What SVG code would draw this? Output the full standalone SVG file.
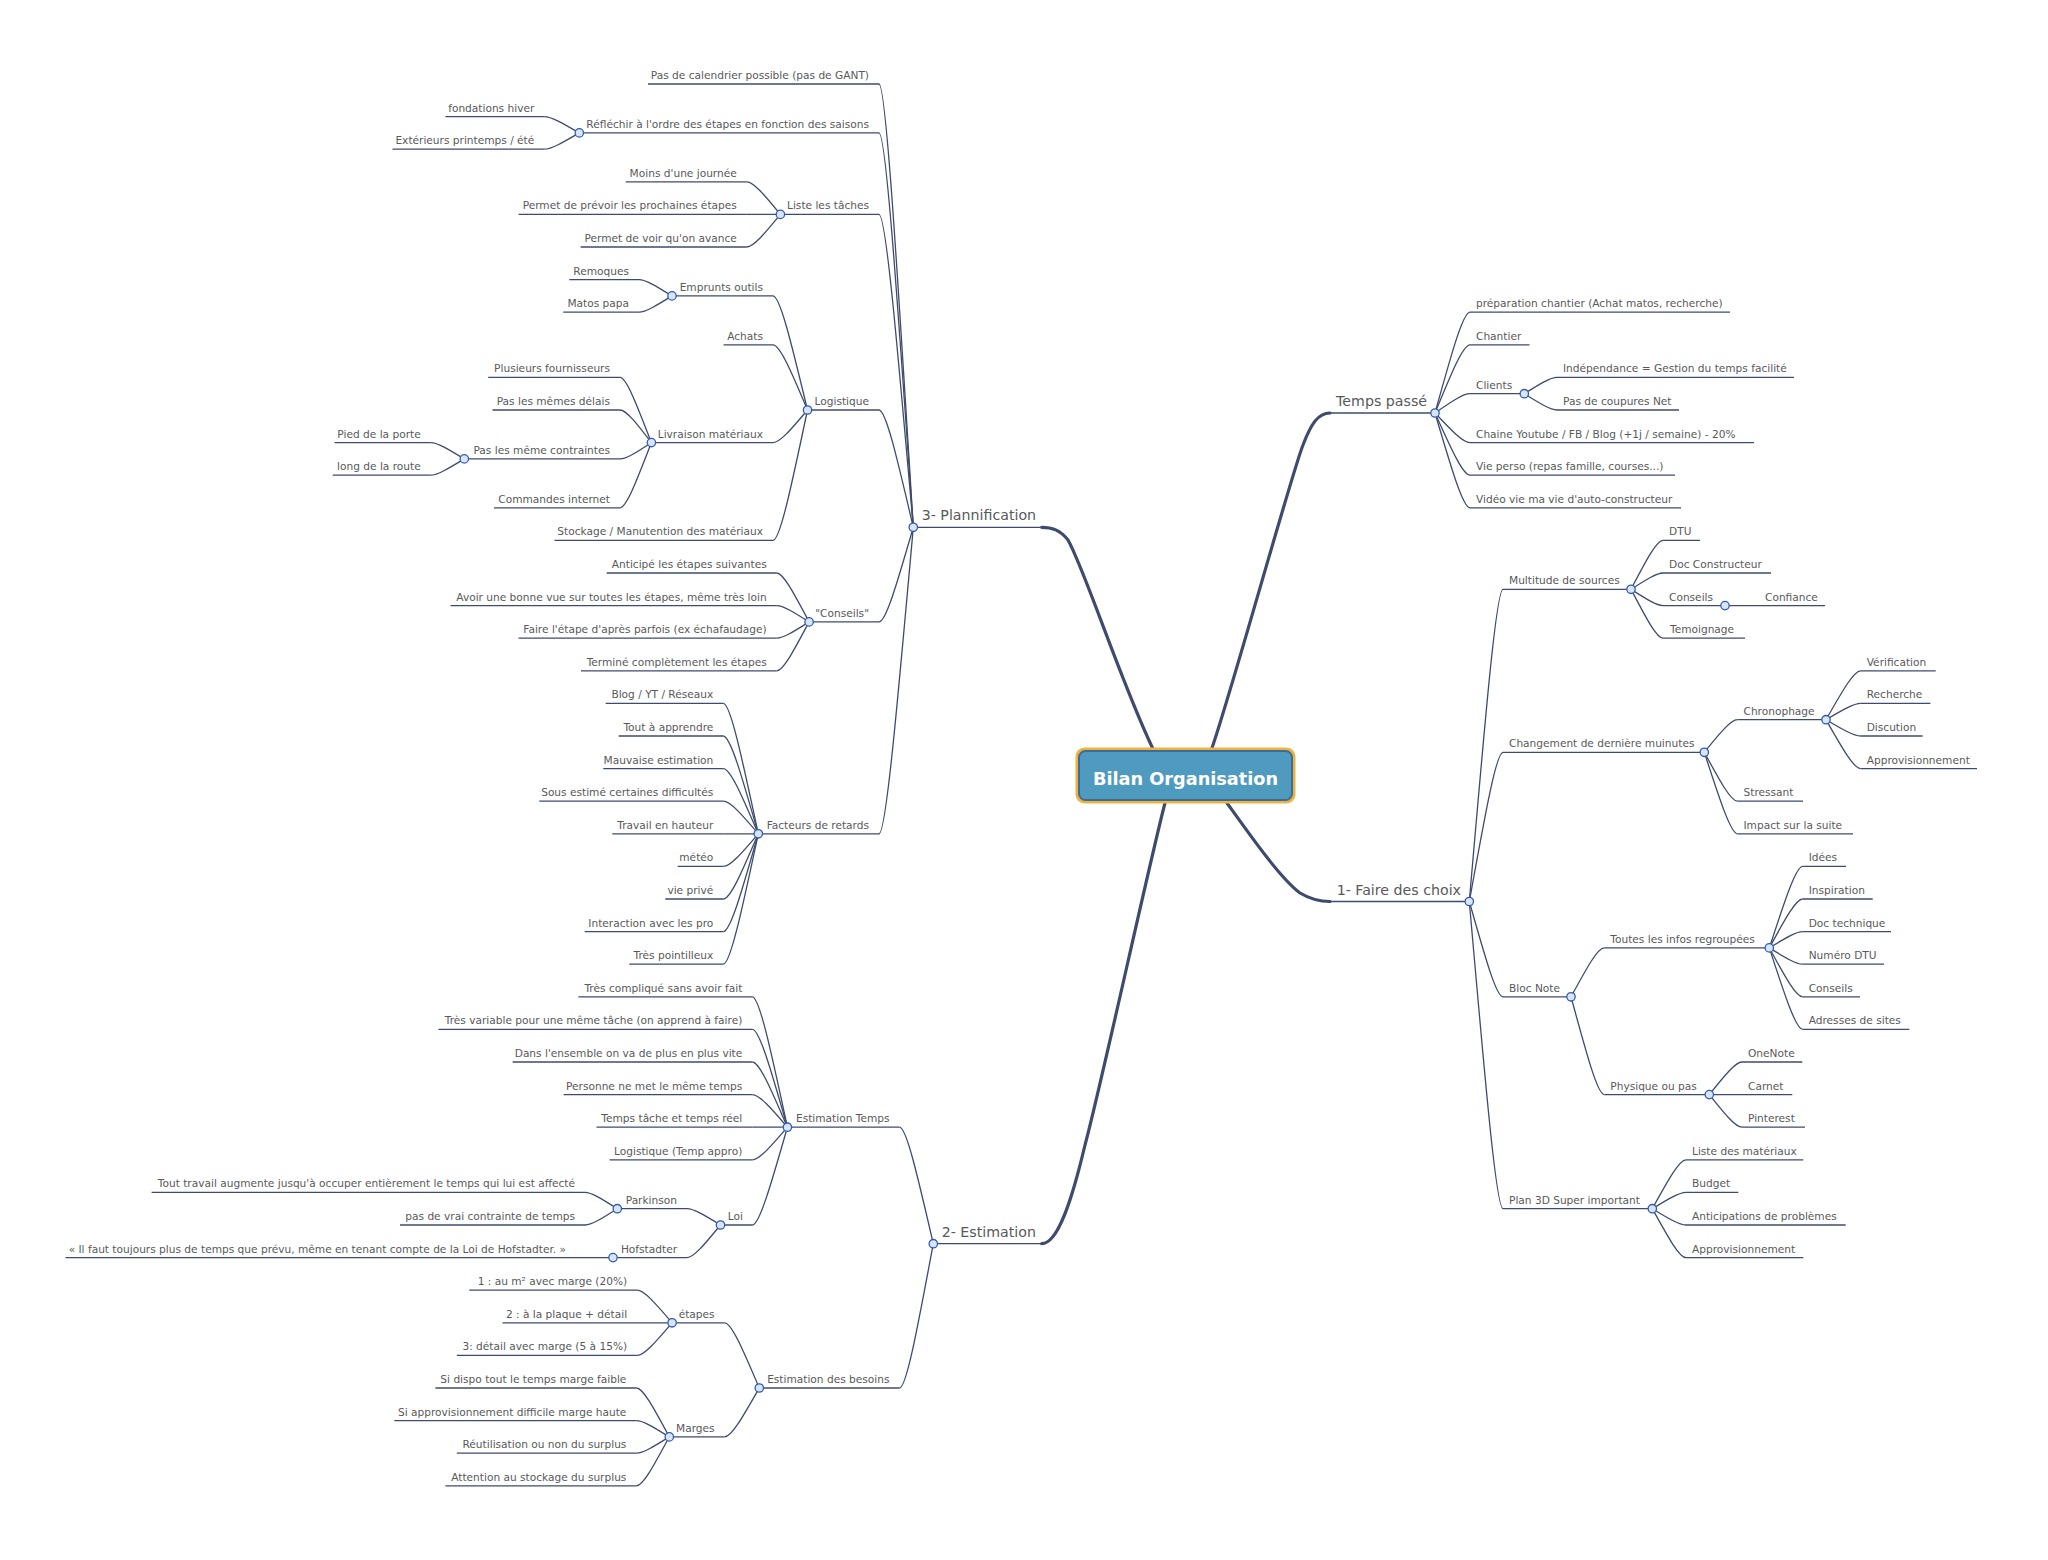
<svg xmlns="http://www.w3.org/2000/svg" width="2048" height="1560" viewBox="0 0 2048 1560">
<style>
.c{fill:none;stroke:#3f4b6c;stroke-width:1.3}
.u{fill:none;stroke:#3f4b6c;stroke-width:1.3}
.r{fill:none;stroke:#3f4b6c;stroke-width:3.2;stroke-linecap:round}
.t{font-family:"DejaVu Sans",Verdana,sans-serif;font-size:10.6px;fill:#595959}
.e{text-anchor:end}
.l1{font-size:14.2px}
.k{fill:#d9e5f7;stroke:#2f5db3;stroke-width:1.3}
</style>
<rect width="2048" height="1560" fill="#ffffff"/>
<g id="connectors">
<path class="r" d="M1153,749 C1120,680 1085,570 1068,540 C1060,530 1052,527.3 1041.7,527.3"/>
<path class="r" d="M1212,748 C1232,690 1292,472 1303,445 C1311,424 1318,413 1330,413"/>
<path class="r" d="M1227,803 C1250,835 1280,878 1300,893 C1310,899 1318,901.5 1330,901.5"/>
<path class="r" d="M1165,803 C1150,860 1100,1090 1085,1145 C1072,1200 1058,1243.7 1041.7,1243.7"/>
<path class="c" d="M1435,413 C1451.8,352.5 1463,312.2 1470,312.2"/>
<path class="c" d="M1435,413 C1451.8,372.1 1463,344.8 1470,344.8"/>
<path class="c" d="M1435,413 C1451.8,401.4 1463,393.7 1470,393.7"/>
<path class="c" d="M1435,413 C1451.8,430.8 1463,442.6 1470,442.6"/>
<path class="c" d="M1435,413 C1451.8,450.3 1463,475.2 1470,475.2"/>
<path class="c" d="M1435,413 C1451.8,469.9 1463,507.8 1470,507.8"/>
<path class="c" d="M1524.3,393.7 C1540,383.9 1550.5,377.4 1557,377.4"/>
<path class="c" d="M1524.3,393.7 C1540,403.5 1550.5,410 1557,410"/>
<path class="c" d="M1469.3,901.5 C1485.5,714.2 1496.3,589.3 1503,589.3"/>
<path class="c" d="M1469.3,901.5 C1485.5,812 1496.3,752.3 1503,752.3"/>
<path class="c" d="M1469.3,901.5 C1485.5,958.7 1496.3,996.8 1503,996.8"/>
<path class="c" d="M1469.3,901.5 C1485.5,1085.8 1496.3,1208.7 1503,1208.7"/>
<path class="c" d="M1631,589.3 C1646.4,560 1656.6,540.4 1663,540.4"/>
<path class="c" d="M1631,589.3 C1646.4,579.5 1656.6,573 1663,573"/>
<path class="c" d="M1631,589.3 C1646.4,599.1 1656.6,605.6 1663,605.6"/>
<path class="c" d="M1631,589.3 C1646.4,618.6 1656.6,638.2 1663,638.2"/>
<path class="c" d="M1725,605.6 H1759"/>
<path class="c" d="M1704.3,752.3 C1720.2,732.7 1730.9,719.7 1737.5,719.7"/>
<path class="c" d="M1704.3,752.3 C1720.2,781.6 1730.9,801.2 1737.5,801.2"/>
<path class="c" d="M1704.3,752.3 C1720.2,801.2 1730.9,833.8 1737.5,833.8"/>
<path class="c" d="M1826,719.7 C1842.7,690.4 1853.8,670.8 1860.7,670.8"/>
<path class="c" d="M1826,719.7 C1842.7,709.9 1853.8,703.4 1860.7,703.4"/>
<path class="c" d="M1826,719.7 C1842.7,729.5 1853.8,736 1860.7,736"/>
<path class="c" d="M1826,719.7 C1842.7,749 1853.8,768.6 1860.7,768.6"/>
<path class="c" d="M1571,996.8 C1587,967.5 1597.6,947.9 1604.3,947.9"/>
<path class="c" d="M1571,996.8 C1587,1055.5 1597.6,1094.6 1604.3,1094.6"/>
<path class="c" d="M1769.3,947.9 C1785.3,899 1796,866.4 1802.7,866.4"/>
<path class="c" d="M1769.3,947.9 C1785.3,918.6 1796,899 1802.7,899"/>
<path class="c" d="M1769.3,947.9 C1785.3,938.1 1796,931.6 1802.7,931.6"/>
<path class="c" d="M1769.3,947.9 C1785.3,957.7 1796,964.2 1802.7,964.2"/>
<path class="c" d="M1769.3,947.9 C1785.3,977.2 1796,996.8 1802.7,996.8"/>
<path class="c" d="M1769.3,947.9 C1785.3,996.8 1796,1029.4 1802.7,1029.4"/>
<path class="c" d="M1709.3,1094.6 C1725,1075 1735.5,1062 1742,1062"/>
<path class="c" d="M1709.3,1094.6 H1742"/>
<path class="c" d="M1709.3,1094.6 C1725,1114.2 1735.5,1127.2 1742,1127.2"/>
<path class="c" d="M1652.3,1208.7 C1668.5,1179.4 1679.3,1159.8 1686,1159.8"/>
<path class="c" d="M1652.3,1208.7 C1668.5,1198.9 1679.3,1192.4 1686,1192.4"/>
<path class="c" d="M1652.3,1208.7 C1668.5,1218.5 1679.3,1225 1686,1225"/>
<path class="c" d="M1652.3,1208.7 C1668.5,1238 1679.3,1257.6 1686,1257.6"/>
<path class="c" d="M913.3,527.3 C896.8,261.3 885.9,84 879,84"/>
<path class="c" d="M913.3,527.3 C896.8,290.7 885.9,132.9 879,132.9"/>
<path class="c" d="M913.3,527.3 C896.8,339.6 885.9,214.4 879,214.4"/>
<path class="c" d="M913.3,527.3 C896.8,456.9 885.9,410 879,410"/>
<path class="c" d="M913.3,527.3 C896.8,584.1 885.9,621.9 879,621.9"/>
<path class="c" d="M913.3,527.3 C896.8,711.2 885.9,833.8 879,833.8"/>
<path class="c" d="M579.3,132.9 C562.5,123.1 551.3,116.6 544.3,116.6"/>
<path class="c" d="M579.3,132.9 C562.5,142.7 551.3,149.2 544.3,149.2"/>
<path class="c" d="M780.4,214.4 C764.3,194.8 753.5,181.8 746.8,181.8"/>
<path class="c" d="M780.4,214.4 H746.8"/>
<path class="c" d="M780.4,214.4 C764.3,234 753.5,247 746.8,247"/>
<path class="c" d="M807.5,410 C791,341.5 779.9,295.9 773,295.9"/>
<path class="c" d="M807.5,410 C791,370.9 779.9,344.8 773,344.8"/>
<path class="c" d="M807.5,410 C791,429.6 779.9,442.6 773,442.6"/>
<path class="c" d="M807.5,410 C791,488.2 779.9,540.4 773,540.4"/>
<path class="c" d="M672,295.9 C656.2,286.1 645.6,279.6 639,279.6"/>
<path class="c" d="M672,295.9 C656.2,305.7 645.6,312.2 639,312.2"/>
<path class="c" d="M651.4,442.6 C636.3,403.5 626.3,377.4 620,377.4"/>
<path class="c" d="M651.4,442.6 C636.3,423 626.3,410 620,410"/>
<path class="c" d="M651.4,442.6 C636.3,452.4 626.3,458.9 620,458.9"/>
<path class="c" d="M651.4,442.6 C636.3,481.7 626.3,507.8 620,507.8"/>
<path class="c" d="M464.3,458.9 C448.2,449.1 437.4,442.6 430.7,442.6"/>
<path class="c" d="M464.3,458.9 C448.2,468.7 437.4,475.2 430.7,475.2"/>
<path class="c" d="M809.1,621.9 C793.5,592.6 783.2,573 776.7,573"/>
<path class="c" d="M809.1,621.9 C793.5,612.1 783.2,605.6 776.7,605.6"/>
<path class="c" d="M809.1,621.9 C793.5,631.7 783.2,638.2 776.7,638.2"/>
<path class="c" d="M809.1,621.9 C793.5,651.2 783.2,670.8 776.7,670.8"/>
<path class="c" d="M758.3,833.8 C741.5,755.6 730.3,703.4 723.3,703.4"/>
<path class="c" d="M758.3,833.8 C741.5,775.1 730.3,736 723.3,736"/>
<path class="c" d="M758.3,833.8 C741.5,794.7 730.3,768.6 723.3,768.6"/>
<path class="c" d="M758.3,833.8 C741.5,814.2 730.3,801.2 723.3,801.2"/>
<path class="c" d="M758.3,833.8 H723.3"/>
<path class="c" d="M758.3,833.8 C741.5,853.4 730.3,866.4 723.3,866.4"/>
<path class="c" d="M758.3,833.8 C741.5,872.9 730.3,899 723.3,899"/>
<path class="c" d="M758.3,833.8 C741.5,892.5 730.3,931.6 723.3,931.6"/>
<path class="c" d="M758.3,833.8 C741.5,912 730.3,964.2 723.3,964.2"/>
<path class="c" d="M933.3,1243.7 C917.1,1173.8 906.3,1127.2 899.5,1127.2"/>
<path class="c" d="M933.3,1243.7 C917.1,1330.3 906.3,1388 899.5,1388"/>
<path class="c" d="M787.4,1127.2 C770.6,1049 759.3,996.8 752.3,996.8"/>
<path class="c" d="M787.4,1127.2 C770.6,1068.5 759.3,1029.4 752.3,1029.4"/>
<path class="c" d="M787.4,1127.2 C770.6,1088.1 759.3,1062 752.3,1062"/>
<path class="c" d="M787.4,1127.2 C770.6,1107.6 759.3,1094.6 752.3,1094.6"/>
<path class="c" d="M787.4,1127.2 H752.3"/>
<path class="c" d="M787.4,1127.2 C770.6,1146.8 759.3,1159.8 752.3,1159.8"/>
<path class="c" d="M787.4,1127.2 C770.6,1185.9 759.3,1225 752.3,1225"/>
<path class="c" d="M720.5,1225 C704.4,1215.2 693.7,1208.7 687,1208.7"/>
<path class="c" d="M720.5,1225 C704.4,1244.6 693.7,1257.6 687,1257.6"/>
<path class="c" d="M617.3,1208.7 C601.8,1198.9 591.5,1192.4 585,1192.4"/>
<path class="c" d="M617.3,1208.7 C601.8,1218.5 591.5,1225 585,1225"/>
<path class="c" d="M613,1257.6 H579"/>
<path class="c" d="M759.3,1388 C742.6,1348.9 731.5,1322.8 724.6,1322.8"/>
<path class="c" d="M759.3,1388 C742.6,1417.3 731.5,1436.9 724.6,1436.9"/>
<path class="c" d="M672.1,1322.8 C655.3,1303.2 644.1,1290.2 637.1,1290.2"/>
<path class="c" d="M672.1,1322.8 H637.1"/>
<path class="c" d="M672.1,1322.8 C655.3,1342.4 644.1,1355.4 637.1,1355.4"/>
<path class="c" d="M669.3,1436.9 C653.5,1407.6 643,1388 636.4,1388"/>
<path class="c" d="M669.3,1436.9 C653.5,1427.1 643,1420.6 636.4,1420.6"/>
<path class="c" d="M669.3,1436.9 C653.5,1446.7 643,1453.2 636.4,1453.2"/>
<path class="c" d="M669.3,1436.9 C653.5,1466.2 643,1485.8 636.4,1485.8"/>
</g>
<g id="root">
<rect x="1075.5" y="747.5" width="220" height="56" rx="9" fill="#f0b23e"/>
<rect x="1079" y="751" width="213" height="49" rx="6.5" fill="#4f9bc0" stroke="#3c6d98" stroke-width="2"/>
<text x="1185.5" y="784.5" text-anchor="middle" font-family="DejaVu Sans, Verdana, sans-serif" font-weight="bold" font-size="17.7" fill="#ffffff">Bilan Organisation</text>
</g>
<g id="n-temps"><path class="u" d="M1330,413 H1435"/><text class="t l1 e" x="1427" y="406">Temps passé</text><circle class="k" cx="1435" cy="413" r="4.2"/></g>
<g id="n-prep"><path class="u" d="M1470,312.2 H1730"/><text class="t" x="1476" y="307.2">préparation chantier (Achat matos, recherche)</text></g>
<g id="n-chantier"><path class="u" d="M1470,344.8 H1529.5"/><text class="t" x="1476" y="339.8">Chantier</text></g>
<g id="n-clients"><path class="u" d="M1470,393.7 H1524.3"/><text class="t" x="1476" y="388.7">Clients</text><circle class="k" cx="1524.3" cy="393.7" r="4.2"/></g>
<g id="n-indep"><path class="u" d="M1557,377.4 H1794"/><text class="t" x="1563" y="372.4">Indépendance = Gestion du temps facilité</text></g>
<g id="n-coupures"><path class="u" d="M1557,410 H1679"/><text class="t" x="1563" y="405">Pas de coupures Net</text></g>
<g id="n-chaine"><path class="u" d="M1470,442.6 H1754"/><text class="t" x="1476" y="437.6">Chaine Youtube / FB / Blog (+1j / semaine) - 20%</text></g>
<g id="n-vieperso"><path class="u" d="M1470,475.2 H1675"/><text class="t" x="1476" y="470.2">Vie perso (repas famille, courses...)</text></g>
<g id="n-video"><path class="u" d="M1470,507.8 H1681"/><text class="t" x="1476" y="502.8">Vidéo vie ma vie d'auto-constructeur</text></g>
<g id="n-faire"><path class="u" d="M1330,901.5 H1469.3"/><text class="t l1 e" x="1461" y="894.5">1- Faire des choix</text><circle class="k" cx="1469.3" cy="901.5" r="4.2"/></g>
<g id="n-multitude"><path class="u" d="M1503,589.3 H1631"/><text class="t" x="1509" y="584.3">Multitude de sources</text><circle class="k" cx="1631" cy="589.3" r="4.2"/></g>
<g id="n-dtu"><path class="u" d="M1663,540.4 H1700"/><text class="t" x="1669" y="535.4">DTU</text></g>
<g id="n-docc"><path class="u" d="M1663,573 H1771"/><text class="t" x="1669" y="568">Doc Constructeur</text></g>
<g id="n-conseilsr"><path class="u" d="M1663,605.6 H1725"/><text class="t" x="1669" y="600.6">Conseils</text><circle class="k" cx="1725" cy="605.6" r="4.2"/></g>
<g id="n-confiance"><path class="u" d="M1759,605.6 H1825"/><text class="t" x="1765" y="600.6">Confiance</text></g>
<g id="n-temoignage"><path class="u" d="M1663,638.2 H1745"/><text class="t" x="1670" y="633.2">Temoignage</text></g>
<g id="n-changement"><path class="u" d="M1503,752.3 H1704.3"/><text class="t" x="1509" y="747.3">Changement de dernière muinutes</text><circle class="k" cx="1704.3" cy="752.3" r="4.2"/></g>
<g id="n-chrono"><path class="u" d="M1737.5,719.7 H1826"/><text class="t" x="1743.5" y="714.7">Chronophage</text><circle class="k" cx="1826" cy="719.7" r="4.2"/></g>
<g id="n-verif"><path class="u" d="M1860.7,670.8 H1935.7"/><text class="t" x="1866.7" y="665.8">Vérification</text></g>
<g id="n-recherche"><path class="u" d="M1860.7,703.4 H1930.4"/><text class="t" x="1866.7" y="698.4">Recherche</text></g>
<g id="n-discution"><path class="u" d="M1860.7,736 H1922.5"/><text class="t" x="1866.7" y="731">Discution</text></g>
<g id="n-appro1"><path class="u" d="M1860.7,768.6 H1977"/><text class="t" x="1866.7" y="763.6">Approvisionnement</text></g>
<g id="n-stressant"><path class="u" d="M1737.5,801.2 H1803"/><text class="t" x="1743.5" y="796.2">Stressant</text></g>
<g id="n-impact"><path class="u" d="M1737.5,833.8 H1853"/><text class="t" x="1743.5" y="828.8">Impact sur la suite</text></g>
<g id="n-bloc"><path class="u" d="M1503,996.8 H1571"/><text class="t" x="1509" y="991.8">Bloc Note</text><circle class="k" cx="1571" cy="996.8" r="4.2"/></g>
<g id="n-toutes"><path class="u" d="M1604.3,947.9 H1769.3"/><text class="t" x="1610.3" y="942.9">Toutes les infos regroupées</text><circle class="k" cx="1769.3" cy="947.9" r="4.2"/></g>
<g id="n-idees"><path class="u" d="M1802.7,866.4 H1846"/><text class="t" x="1808.7" y="861.4">Idées</text></g>
<g id="n-inspiration"><path class="u" d="M1802.7,899 H1872.7"/><text class="t" x="1808.7" y="894">Inspiration</text></g>
<g id="n-doctech"><path class="u" d="M1802.7,931.6 H1891"/><text class="t" x="1808.7" y="926.6">Doc technique</text></g>
<g id="n-numdtu"><path class="u" d="M1802.7,964.2 H1884"/><text class="t" x="1808.7" y="959.2">Numéro DTU</text></g>
<g id="n-conseils3"><path class="u" d="M1802.7,996.8 H1860"/><text class="t" x="1808.7" y="991.8">Conseils</text></g>
<g id="n-adresses"><path class="u" d="M1802.7,1029.4 H1909.3"/><text class="t" x="1808.7" y="1024.4">Adresses de sites</text></g>
<g id="n-physique"><path class="u" d="M1604.3,1094.6 H1709.3"/><text class="t" x="1610.3" y="1089.6">Physique ou pas</text><circle class="k" cx="1709.3" cy="1094.6" r="4.2"/></g>
<g id="n-onenote"><path class="u" d="M1742,1062 H1802.3"/><text class="t" x="1748" y="1057">OneNote</text></g>
<g id="n-carnet"><path class="u" d="M1742,1094.6 H1792.3"/><text class="t" x="1748" y="1089.6">Carnet</text></g>
<g id="n-pinterest"><path class="u" d="M1742,1127.2 H1805"/><text class="t" x="1748" y="1122.2">Pinterest</text></g>
<g id="n-plan3d"><path class="u" d="M1503,1208.7 H1652.3"/><text class="t" x="1509" y="1203.7">Plan 3D Super important</text><circle class="k" cx="1652.3" cy="1208.7" r="4.2"/></g>
<g id="n-listemat"><path class="u" d="M1686,1159.8 H1803.3"/><text class="t" x="1692" y="1154.8">Liste des matériaux</text></g>
<g id="n-budget"><path class="u" d="M1686,1192.4 H1738.3"/><text class="t" x="1692" y="1187.4">Budget</text></g>
<g id="n-anticip"><path class="u" d="M1686,1225 H1845.7"/><text class="t" x="1692" y="1220">Anticipations de problèmes</text></g>
<g id="n-appro2"><path class="u" d="M1686,1257.6 H1803.3"/><text class="t" x="1692" y="1252.6">Approvisionnement</text></g>
<g id="n-plannif"><path class="u" d="M913.3,527.3 H1041.7"/><text class="t l1" x="921.7" y="520.3">3- Plannification</text><circle class="k" cx="913.3" cy="527.3" r="4.2"/></g>
<g id="n-calendrier"><path class="u" d="M648,84 H879"/><text class="t e" x="869" y="79">Pas de calendrier possible (pas de GANT)</text></g>
<g id="n-reflechir"><path class="u" d="M579.3,132.9 H879"/><text class="t e" x="869" y="127.9">Réfléchir à l'ordre des étapes en fonction des saisons</text><circle class="k" cx="579.3" cy="132.9" r="4.2"/></g>
<g id="n-fondations"><path class="u" d="M445.4,116.6 H544.3"/><text class="t e" x="534.3" y="111.6">fondations hiver</text></g>
<g id="n-exterieurs"><path class="u" d="M392.5,149.2 H544.3"/><text class="t e" x="534.3" y="144.2">Extérieurs printemps / été</text></g>
<g id="n-liste"><path class="u" d="M780.4,214.4 H879"/><text class="t e" x="869" y="209.4">Liste les tâches</text><circle class="k" cx="780.4" cy="214.4" r="4.2"/></g>
<g id="n-moins"><path class="u" d="M625.7,181.8 H746.8"/><text class="t e" x="736.8" y="176.8">Moins d'une journée</text></g>
<g id="n-prevoir"><path class="u" d="M518.6,214.4 H746.8"/><text class="t e" x="736.8" y="209.4">Permet de prévoir les prochaines étapes</text></g>
<g id="n-avance"><path class="u" d="M580.7,247 H746.8"/><text class="t e" x="736.8" y="242">Permet de voir qu'on avance</text></g>
<g id="n-logistique"><path class="u" d="M807.5,410 H879"/><text class="t e" x="869" y="405">Logistique</text><circle class="k" cx="807.5" cy="410" r="4.2"/></g>
<g id="n-emprunts"><path class="u" d="M672,295.9 H773"/><text class="t e" x="763" y="290.9">Emprunts outils</text><circle class="k" cx="672" cy="295.9" r="4.2"/></g>
<g id="n-remoques"><path class="u" d="M569.3,279.6 H639"/><text class="t e" x="629" y="274.6">Remoques</text></g>
<g id="n-matos"><path class="u" d="M563.2,312.2 H639"/><text class="t e" x="629" y="307.2">Matos papa</text></g>
<g id="n-achats"><path class="u" d="M723.6,344.8 H773"/><text class="t e" x="763" y="339.8">Achats</text></g>
<g id="n-livraison"><path class="u" d="M651.4,442.6 H773"/><text class="t e" x="763" y="437.6">Livraison matériaux</text><circle class="k" cx="651.4" cy="442.6" r="4.2"/></g>
<g id="n-fournisseurs"><path class="u" d="M488.2,377.4 H620"/><text class="t e" x="610" y="372.4">Plusieurs fournisseurs</text></g>
<g id="n-delais"><path class="u" d="M492.5,410 H620"/><text class="t e" x="610" y="405">Pas les mêmes délais</text></g>
<g id="n-contraintes"><path class="u" d="M464.3,458.9 H620"/><text class="t e" x="610" y="453.9">Pas les même contraintes</text><circle class="k" cx="464.3" cy="458.9" r="4.2"/></g>
<g id="n-porte"><path class="u" d="M334.6,442.6 H430.7"/><text class="t e" x="420.7" y="437.6">Pied de la porte</text></g>
<g id="n-route"><path class="u" d="M332.7,475.2 H430.7"/><text class="t e" x="420.7" y="470.2">long de la route</text></g>
<g id="n-commandes"><path class="u" d="M494,507.8 H620"/><text class="t e" x="610" y="502.8">Commandes internet</text></g>
<g id="n-stockage"><path class="u" d="M554.5,540.4 H773"/><text class="t e" x="763" y="535.4">Stockage / Manutention des matériaux</text></g>
<g id="n-conseilsl"><path class="u" d="M809.1,621.9 H879"/><text class="t e" x="869" y="616.9">"Conseils"</text><circle class="k" cx="809.1" cy="621.9" r="4.2"/></g>
<g id="n-anticipe"><path class="u" d="M606.7,573 H776.7"/><text class="t e" x="766.7" y="568">Anticipé les étapes suivantes</text></g>
<g id="n-avoir"><path class="u" d="M450.5,605.6 H776.7"/><text class="t e" x="766.7" y="600.6">Avoir une bonne vue sur toutes les étapes, même très loin</text></g>
<g id="n-fairetape"><path class="u" d="M518.5,638.2 H776.7"/><text class="t e" x="766.7" y="633.2">Faire l'étape d'après parfois (ex échafaudage)</text></g>
<g id="n-termine"><path class="u" d="M581,670.8 H776.7"/><text class="t e" x="766.7" y="665.8">Terminé complètement les étapes</text></g>
<g id="n-facteurs"><path class="u" d="M758.3,833.8 H879"/><text class="t e" x="869" y="828.8">Facteurs de retards</text><circle class="k" cx="758.3" cy="833.8" r="4.2"/></g>
<g id="n-blog"><path class="u" d="M605.7,703.4 H723.3"/><text class="t e" x="713.3" y="698.4">Blog / YT / Réseaux</text></g>
<g id="n-apprendre"><path class="u" d="M618.7,736 H723.3"/><text class="t e" x="713.3" y="731">Tout à apprendre</text></g>
<g id="n-mauvaise"><path class="u" d="M603.3,768.6 H723.3"/><text class="t e" x="713.3" y="763.6">Mauvaise estimation</text></g>
<g id="n-sous"><path class="u" d="M539.3,801.2 H723.3"/><text class="t e" x="713.3" y="796.2">Sous estimé certaines difficultés</text></g>
<g id="n-hauteur"><path class="u" d="M612.3,833.8 H723.3"/><text class="t e" x="713.3" y="828.8">Travail en hauteur</text></g>
<g id="n-meteo"><path class="u" d="M677.7,866.4 H723.3"/><text class="t e" x="713.3" y="861.4">météo</text></g>
<g id="n-vieprive"><path class="u" d="M665.3,899 H723.3"/><text class="t e" x="713.3" y="894">vie privé</text></g>
<g id="n-interaction"><path class="u" d="M584.7,931.6 H723.3"/><text class="t e" x="713.3" y="926.6">Interaction avec les pro</text></g>
<g id="n-pointilleux"><path class="u" d="M629.3,964.2 H723.3"/><text class="t e" x="713.3" y="959.2">Très pointilleux</text></g>
<g id="n-estimation"><path class="u" d="M933.3,1243.7 H1041.7"/><text class="t l1" x="941.7" y="1236.7">2- Estimation</text><circle class="k" cx="933.3" cy="1243.7" r="4.2"/></g>
<g id="n-esttemps"><path class="u" d="M787.4,1127.2 H899.5"/><text class="t e" x="889.5" y="1122.2">Estimation Temps</text><circle class="k" cx="787.4" cy="1127.2" r="4.2"/></g>
<g id="n-complique"><path class="u" d="M578.4,996.8 H752.3"/><text class="t e" x="742.3" y="991.8">Très compliqué sans avoir fait</text></g>
<g id="n-variable"><path class="u" d="M438.5,1029.4 H752.3"/><text class="t e" x="742.3" y="1024.4">Très variable pour une même tâche (on apprend à faire)</text></g>
<g id="n-ensemble"><path class="u" d="M512.6,1062 H752.3"/><text class="t e" x="742.3" y="1057">Dans l'ensemble on va de plus en plus vite</text></g>
<g id="n-personne"><path class="u" d="M563.6,1094.6 H752.3"/><text class="t e" x="742.3" y="1089.6">Personne ne met le même temps</text></g>
<g id="n-tache"><path class="u" d="M596.5,1127.2 H752.3"/><text class="t e" x="742.3" y="1122.2">Temps tâche et temps réel</text></g>
<g id="n-logtemp"><path class="u" d="M609.6,1159.8 H752.3"/><text class="t e" x="742.3" y="1154.8">Logistique (Temp appro)</text></g>
<g id="n-loi"><path class="u" d="M720.5,1225 H752.3"/><text class="t e" x="743" y="1220">Loi</text><circle class="k" cx="720.5" cy="1225" r="4.2"/></g>
<g id="n-parkinson"><path class="u" d="M617.3,1208.7 H687"/><text class="t e" x="677" y="1203.7">Parkinson</text><circle class="k" cx="617.3" cy="1208.7" r="4.2"/></g>
<g id="n-touttravail"><path class="u" d="M151.6,1192.4 H585"/><text class="t e" x="575" y="1187.4">Tout travail augmente jusqu'à occuper entièrement le temps qui lui est affecté</text></g>
<g id="n-pasvrai"><path class="u" d="M400,1225 H585"/><text class="t e" x="575" y="1220">pas de vrai contrainte de temps</text></g>
<g id="n-hofstadter"><path class="u" d="M613,1257.6 H687"/><text class="t e" x="677" y="1252.6">Hofstadter</text><circle class="k" cx="613" cy="1257.6" r="4.2"/></g>
<g id="n-ilfaut"><path class="u" d="M65.5,1257.6 H579"/><text class="t e" x="566" y="1252.6">« Il faut toujours plus de temps que prévu, même en tenant compte de la Loi de Hofstadter. »</text></g>
<g id="n-besoins"><path class="u" d="M759.3,1388 H899.5"/><text class="t e" x="889.5" y="1383">Estimation des besoins</text><circle class="k" cx="759.3" cy="1388" r="4.2"/></g>
<g id="n-etapes"><path class="u" d="M672.1,1322.8 H724.6"/><text class="t e" x="714.6" y="1317.8">étapes</text><circle class="k" cx="672.1" cy="1322.8" r="4.2"/></g>
<g id="n-e1"><path class="u" d="M469.3,1290.2 H637.1"/><text class="t e" x="627.1" y="1285.2">1 : au m² avec marge (20%)</text></g>
<g id="n-e2"><path class="u" d="M502.5,1322.8 H637.1"/><text class="t e" x="627.1" y="1317.8">2 : à la plaque + détail</text></g>
<g id="n-e3"><path class="u" d="M456.8,1355.4 H637.1"/><text class="t e" x="627.1" y="1350.4">3: détail avec marge (5 à 15%)</text></g>
<g id="n-marges"><path class="u" d="M669.3,1436.9 H724.6"/><text class="t e" x="714.6" y="1431.9">Marges</text><circle class="k" cx="669.3" cy="1436.9" r="4.2"/></g>
<g id="n-dispo"><path class="u" d="M435.4,1388 H636.4"/><text class="t e" x="626.4" y="1383">Si dispo tout le temps marge faible</text></g>
<g id="n-approdiff"><path class="u" d="M394.3,1420.6 H636.4"/><text class="t e" x="626.4" y="1415.6">Si approvisionnement difficile marge haute</text></g>
<g id="n-reutil"><path class="u" d="M456.8,1453.2 H636.4"/><text class="t e" x="626.4" y="1448.2">Réutilisation ou non du surplus</text></g>
<g id="n-attention"><path class="u" d="M445.4,1485.8 H636.4"/><text class="t e" x="626.4" y="1480.8">Attention au stockage du surplus</text></g>
</svg>
